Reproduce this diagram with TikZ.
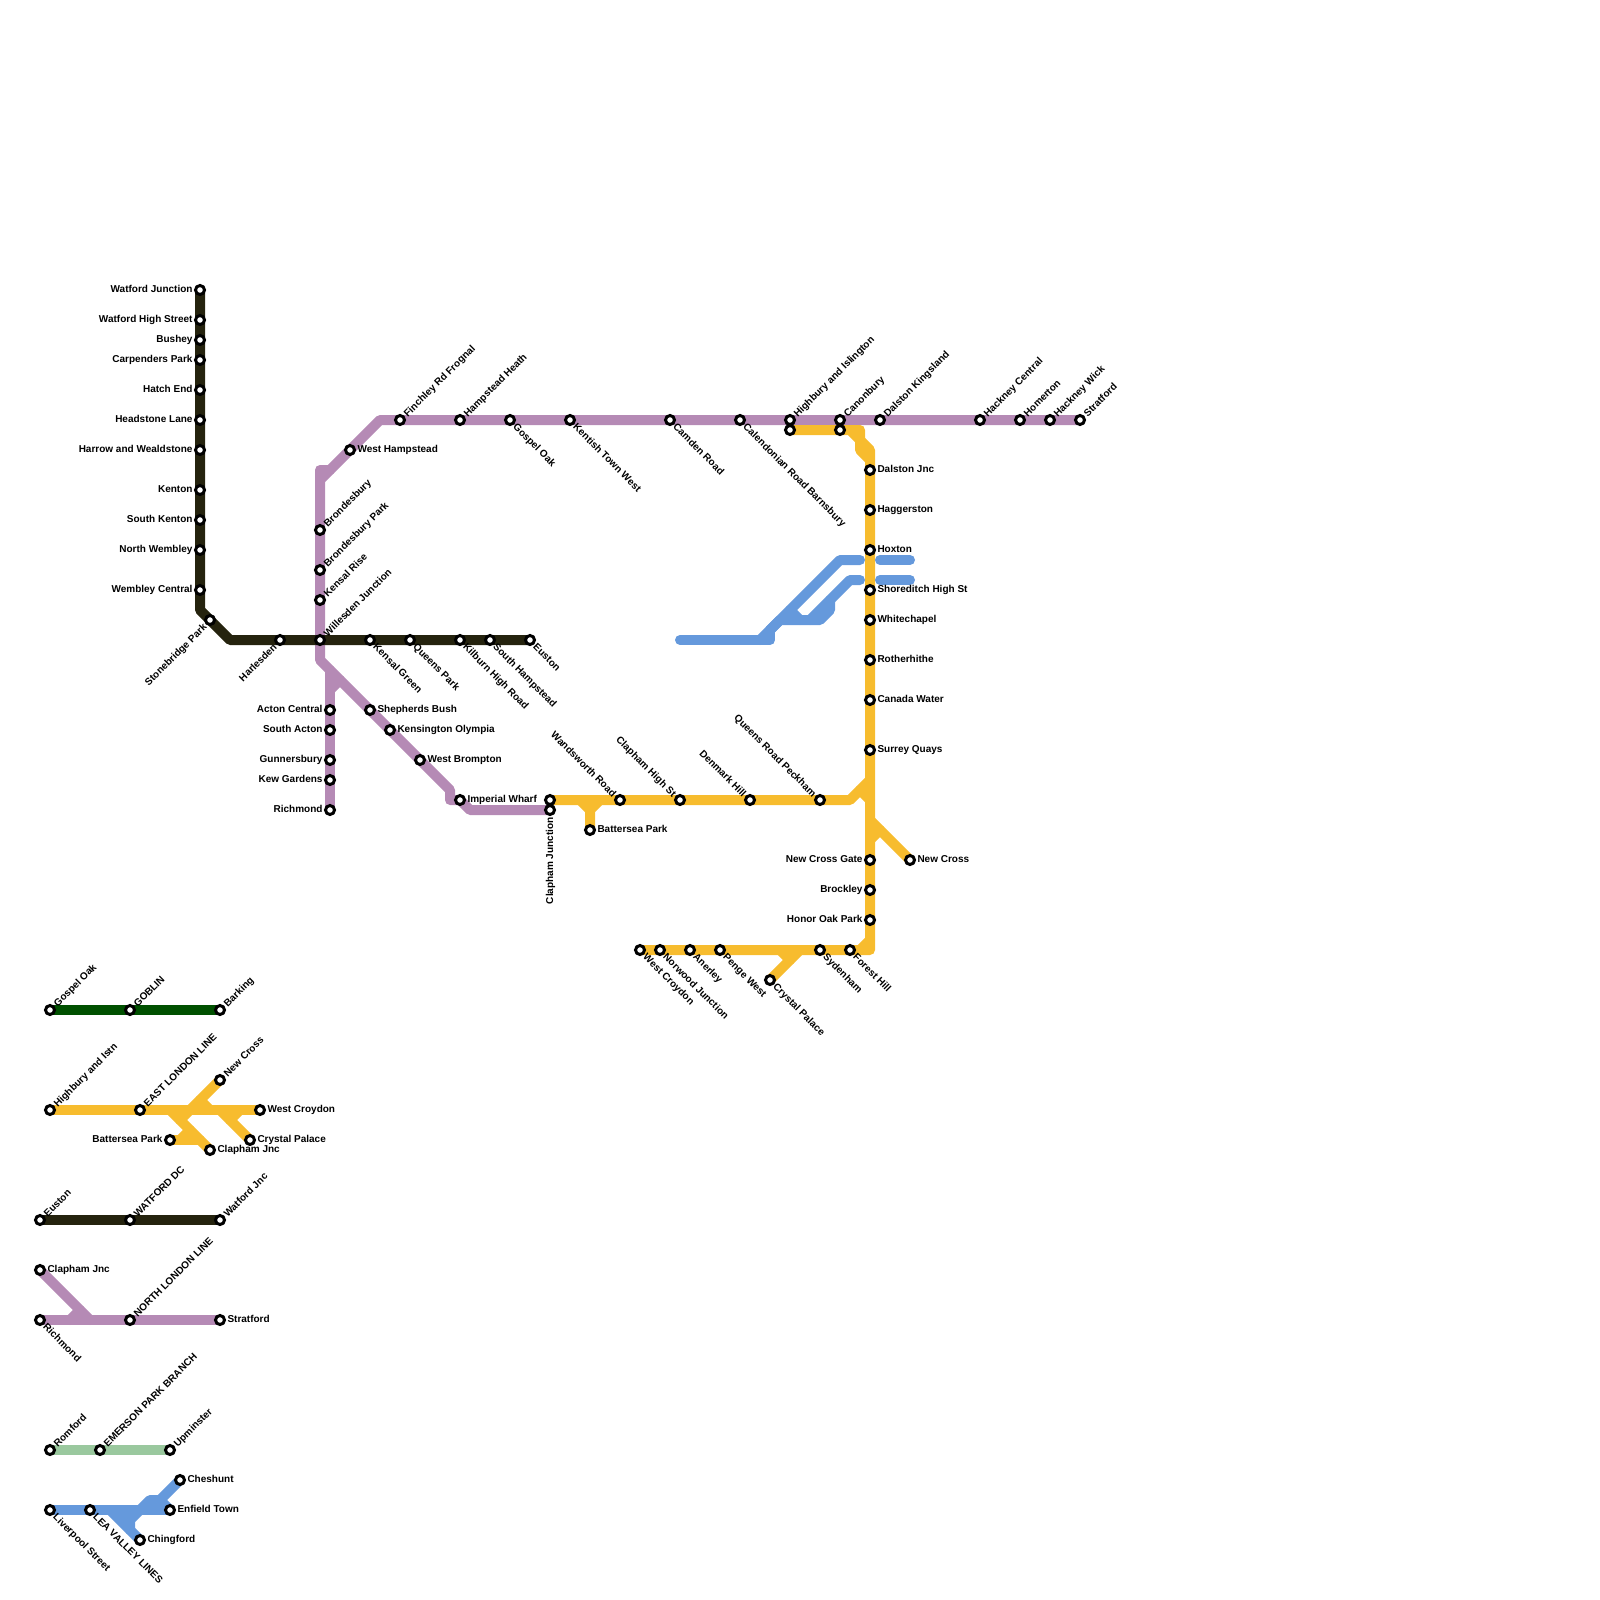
\documentclass[tikz,border=0pt]{standalone}
\usepackage{fontspec}
\setmainfont{Liberation Sans}
\usetikzlibrary{backgrounds}
\definecolor{cBlack}{RGB}{37,35,14}
\definecolor{cPurple}{RGB}{181,138,181}
\definecolor{cOrange}{RGB}{247,188,46}
\definecolor{cBlue}{RGB}{101,153,220}
\definecolor{cDkGreen}{RGB}{0,80,0}
\definecolor{cLtGreen}{RGB}{154,200,158}
\tikzset{
  station/.style={circle,draw=black,fill=white,line width=1.5pt,minimum size=4.5pt,inner sep=0pt,outer sep=0pt},
  rail/.style={line width=5pt,line cap=round,line join=round},
  railBlack/.style={rail,draw=cBlack},
  railPurple/.style={rail,draw=cPurple},
  railOrange/.style={rail,draw=cOrange},
  railBlue/.style={rail,draw=cBlue},
  railDk/.style={rail,draw=cDkGreen},
  railLt/.style={rail,draw=cLtGreen},
  lab/.style={font=\bfseries\fontsize{5}{6}\selectfont,inner sep=0pt,outer sep=0pt,text height=3.7pt,text depth=0pt},
  labR/.style={lab,anchor=west,xshift=3.75pt,yshift=0.5pt},
  labL/.style={lab,anchor=east,xshift=-3.75pt,yshift=0.5pt},
  labUR/.style={lab,anchor=west,xshift=2.6pt,yshift=2.6pt,rotate=45},
  labDR/.style={lab,anchor=west,xshift=2.6pt,yshift=-2.6pt,rotate=-45},
  labUL/.style={lab,anchor=east,xshift=-2.6pt,yshift=2.6pt,rotate=-45},
  labDL/.style={lab,anchor=east,xshift=-2.6pt,yshift=-2.6pt,rotate=45},
  labD/.style={lab,anchor=east,yshift=-3.75pt,xshift=-0.3pt,rotate=90},
}
\newcommand{\stn}[4]{\node[station] (#1) at (#2) {}; \node[lab#3] (#1L) at (#1) {#4};}
\begin{document}
\begin{tikzpicture}[x=0.5pt,y=-0.5pt]
\useasboundingbox (0,0) rectangle (1600,1600);
% north west line
\stn{wj}{200,290}{L}{Watford Junction}
\stn{whs}{200,320}{L}{Watford High Street}
\stn{bus}{200,340}{L}{Bushey}
\stn{cp}{200,360}{L}{Carpenders Park}
\stn{he}{200,390}{L}{Hatch End}
\stn{hl}{200,420}{L}{Headstone Lane}
\stn{hw}{200,450}{L}{Harrow and Wealdstone}
\stn{ken}{200,490}{L}{Kenton}
\stn{sk}{200,520}{L}{South Kenton}
\stn{nw}{200,550}{L}{North Wembley}
\stn{wc}{200,590}{L}{Wembley Central}
\stn{sp}{210,620}{DL}{Stonebridge Park}
\stn{har}{280,640}{DL}{Harlesden}
\stn{wil}{320,640}{UR}{Willesden Junction}
\stn{kg}{370,640}{DR}{Kensal Green}
\stn{qp}{410,640}{DR}{Queens Park}
\stn{khr}{460,640}{DR}{Kilburn High Road}
\stn{shm}{490,640}{DR}{South Hampstead}
\stn{eus}{530,640}{DR}{Euston}
% north london line
\stn{bry}{320,530}{UR}{Brondesbury}
\stn{brp}{320,570}{UR}{Brondesbury Park}
\stn{kr}{320,600}{UR}{Kensal Rise}
\stn{whm}{350,450}{R}{West Hampstead}
\stn{frn}{400,420}{UR}{Finchley Rd Frognal}
\stn{hh}{460,420}{UR}{Hampstead Heath}
\stn{go}{510,420}{DR}{Gospel Oak}
\stn{ktw}{570,420}{DR}{Kentish Town West}
\stn{cr}{670,420}{DR}{Camden Road}
\stn{crb}{740,420}{DR}{Calendonian Road Barnsbury}
\stn{hi}{790,420}{UR}{Highbury and Islington}
\stn{can}{840,420}{UR}{Canonbury}
\stn{dk}{880,420}{UR}{Dalston Kingsland}
\stn{hc}{980,420}{UR}{Hackney Central}
\stn{hom}{1020,420}{UR}{Homerton}
\stn{hwk}{1050,420}{UR}{Hackney Wick}
\stn{str}{1080,420}{UR}{Stratford}
\stn{ac}{330,710}{L}{Acton Central}
\stn{sa}{330,730}{L}{South Acton}
\stn{gun}{330,760}{L}{Gunnersbury}
\stn{kew}{330,780}{L}{Kew Gardens}
\stn{ric}{330,810}{L}{Richmond}
\stn{sb}{370,710}{R}{Shepherds Bush}
\stn{ko}{390,730}{R}{Kensington Olympia}
\stn{wb}{420,760}{R}{West Brompton}
\stn{iw}{460,800}{R}{Imperial Wharf}
\stn{cjn}{550,810}{D}{Clapham Junction}
% east london line
\stn{cjt}{550,800}{R}{}
\stn{bat}{590,830}{R}{Battersea Park}
\stn{wr}{620,800}{UL}{Wandsworth Road}
\stn{chs}{680,800}{UL}{Clapham High St}
\stn{dh}{750,800}{UL}{Denmark Hill}
\stn{qrp}{820,800}{UL}{Queens Road Peckham}
\stn{ho}{790,430}{R}{}
\stn{co}{840,430}{R}{}
\stn{dj}{870,470}{R}{Dalston Jnc}
\stn{hag}{870,510}{R}{Haggerston}
\stn{hox}{870,550}{R}{Hoxton}
\stn{sho}{870,590}{R}{Shoreditch High St}
\stn{wch}{870,620}{R}{Whitechapel}
\stn{rot}{870,660}{R}{Rotherhithe}
\stn{cw}{870,700}{R}{Canada Water}
\stn{sq}{870,750}{R}{Surrey Quays}
\stn{ncg}{870,860}{L}{New Cross Gate}
\stn{nc}{910,860}{R}{New Cross}
\stn{bro}{870,890}{L}{Brockley}
\stn{hop}{870,920}{L}{Honor Oak Park}
\stn{fh}{850,950}{DR}{Forest Hill}
\stn{syd}{820,950}{DR}{Sydenham}
\stn{cpl}{770,980}{DR}{Crystal Palace}
\stn{pw}{720,950}{DR}{Penge West}
\stn{ane}{690,950}{DR}{Anerley}
\stn{nj}{660,950}{DR}{Norwood Junction}
\stn{wcr}{640,950}{DR}{West Croydon}
% legend
\stn{a1}{50,1010}{UR}{Gospel Oak}
\stn{a2}{130,1010}{UR}{GOBLIN}
\stn{a3}{220,1010}{UR}{Barking}
\stn{b1}{50,1110}{UR}{Highbury and Istn}
\stn{b2}{140,1110}{UR}{EAST LONDON LINE}
\stn{b3}{220,1080}{UR}{New Cross}
\stn{b4}{260,1110}{R}{West Croydon}
\stn{b5}{250,1140}{R}{Crystal Palace}
\stn{b6}{170,1140}{L}{Battersea Park}
\stn{b7}{210,1150}{R}{Clapham Jnc}
\stn{c1}{40,1220}{UR}{Euston}
\stn{c2}{130,1220}{UR}{WATFORD DC}
\stn{c3}{220,1220}{UR}{Watford Jnc}
\stn{d1}{40,1270}{R}{Clapham Jnc}
\stn{d2}{40,1320}{DR}{Richmond}
\stn{d3}{130,1320}{UR}{NORTH LONDON LINE}
\stn{d4}{220,1320}{R}{Stratford}
\stn{e1}{50,1450}{UR}{Romford}
\stn{e2}{100,1450}{UR}{EMERSON PARK BRANCH}
\stn{e3}{170,1450}{UR}{Upminster}
\stn{f1}{50,1510}{DR}{Liverpool Street}
\stn{f2}{90,1510}{DR}{LEA VALLEY LINES}
\stn{f3}{170,1510}{R}{Enfield Town}
\stn{f4}{180,1480}{R}{Cheshunt}
\stn{f5}{140,1540}{R}{Chingford}
\begin{scope}[on background layer]
% purple
\draw[railPurple] (str.center) -- (380,420) -- (320,480) -- (320,660) -- (450,790) -- (450,800) -- (460,800) -- (470,810) -- (cjn.center);
\draw[railPurple] (320,480) -- (320,470) -- (330,470);
\draw[railPurple] (ric.center) -- (330,670);
\draw[railPurple] (330,690) -- (340,680);
\draw[railPurple] (d1.center) -- (90,1320);
\draw[railPurple] (d2.center) -- (d4.center);
\draw[railPurple] (70,1320) -- (80,1310);
% orange
\draw[railOrange] (cjt.center) -- (850,800) -- (870,780);
\draw[railOrange] (860,790) -- (870,800);
\draw[railOrange] (bat.center) -- (590,810) -- (600,800);
\draw[railOrange] (590,810) -- (580,800);
\draw[railOrange] (ho.center) -- (850,430) -- (870,450) -- (870,950) -- (wcr.center);
\draw[railOrange] (850,430) -- (860,430) -- (860,450) -- (870,460);
\draw[railOrange] (870,820) -- (nc.center);
\draw[railOrange] (870,840) -- (880,830);
\draw[railOrange] (860,950) -- (870,940);
\draw[railOrange] (cpl.center) -- (800,950);
\draw[railOrange] (780,950) -- (790,960);
\draw[railOrange] (b1.center) -- (b4.center);
\draw[railOrange] (b3.center) -- (180,1120);
\draw[railOrange] (200,1100) -- (210,1110);
\draw[railOrange] (170,1110) -- (b7.center);
\draw[railOrange] (b6.center) -- (200,1140);
\draw[railOrange] (180,1140) -- (190,1130);
\draw[railOrange] (220,1110) -- (b5.center);
\draw[railOrange] (230,1120) -- (240,1110);
% blue
\draw[railBlue] (680,640) -- (770,640) -- (770,630);
\draw[railBlue] (760,640) -- (840,560) -- (860,560);
\draw[railBlue] (860,580) -- (850,580) -- (810,620) -- (780,620) -- (770,630);
\draw[railBlue] (830,600) -- (830,610) -- (820,620) -- (810,620);
\draw[railBlue] (790,610) -- (800,620);
\draw[railBlue] (880,560) -- (910,560);
\draw[railBlue] (880,580) -- (910,580);
\draw[railBlue] (f1.center) -- (f3.center);
\draw[railBlue] (f4.center) -- (160,1500) -- (150,1500) -- (130,1520) -- (130,1530);
\draw[railBlue] (160,1500) -- (f3.center);
\draw[railBlue] (110,1510) -- (f5.center);
\draw[railBlue] (120,1510) -- (130,1520);
% black
\draw[railBlack] (wj.center) -- (200,610) -- (230,640) -- (eus.center);
\draw[railBlack] (c1.center) -- (c3.center);
% greens
\draw[railDk] (a1.center) -- (a3.center);
\draw[railLt] (e1.center) -- (e3.center);
\end{scope}
\end{tikzpicture}
\end{document}
